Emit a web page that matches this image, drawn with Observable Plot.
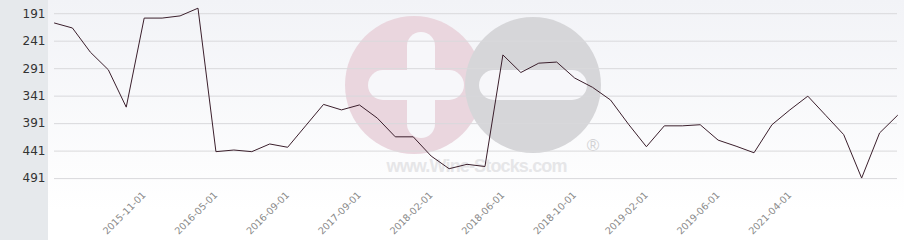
<!DOCTYPE html>
<html>
<head>
<meta charset="utf-8">
<script src="https://cdn.jsdelivr.net/npm/d3@7"></script>
<script src="https://cdn.jsdelivr.net/npm/@observablehq/plot@0.6"></script>
<style>
  html, body { margin: 0; padding: 0; background: #fff; }
  #wrap { position: relative; width: 904px; height: 240px; overflow: hidden; font-family: "DejaVu Sans", sans-serif; }
  #leftpanel { position: absolute; left: 0; top: 0; width: 48px; height: 240px; background: #e6e9ec; }
  #plotbg { position: absolute; left: 48px; top: 0; width: 856px; height: 240px; background: linear-gradient(#f2f3f7, #ffffff 88%); }
  #wm { position: absolute; left: 0; top: 0; }
  #chart { position: absolute; left: 0; top: 0; }
  #chart svg { background: transparent !important; }
</style>
</head>
<body>
<div id="wrap">
  <div id="leftpanel"></div>
  <div id="plotbg"></div>
  <svg id="wm" width="904" height="240">
    <circle cx="414" cy="85" r="69" fill="#ead6de"/>
    <circle cx="533" cy="85" r="68" fill="#d6d6d9"/>
    <rect x="407" y="32" width="28" height="106" rx="14" fill="#f7f7fa"/>
    <rect x="368" y="70" width="96" height="30" rx="15" fill="#f7f7fa"/>
    <rect x="479" y="70" width="108" height="30" rx="15" fill="#f7f7fa"/>
    <text x="593" y="151" text-anchor="middle" font-family="Liberation Sans, Arial" font-size="17" fill="#d2d2d4">®</text>
    <text x="477" y="172" text-anchor="middle" font-family="Liberation Sans, Arial" font-weight="bold" font-size="18" textLength="181" fill="#e6e6e8">www.Wine-Stocks.com</text>
  </svg>
  <div id="chart"></div>
</div>
<script>
// Rank values (lower = better; axis reversed), one per period
const ranks = [208, 217, 261, 293, 361, 199, 199, 195, 181, 442,
               439, 442, 428, 434, 395, 356, 366, 357, 381, 415,
               415, 450, 473, 465, 469, 266, 298, 281, 279, 308,
               325, 348, 392, 433, 395, 395, 393, 421, 432, 444,
               393, 366, 341, 376, 411, 490, 408, 376];
// Labeled period positions and their labels
const tickIndex = [5, 9, 13, 17, 21, 25, 29, 33, 37, 41];
const tickLabels = ["2015-11-01", "2016-05-01", "2016-09-01", "2017-09-01", "2018-02-01",
                    "2018-06-01", "2018-10-01", "2019-02-01", "2019-06-01", "2021-04-01"];
const yTicks = [191, 241, 291, 341, 391, 441, 491];

const data = ranks.map((v, i) => ({i, v}));
const labelOf = new Map(tickIndex.map((t, k) => [t, tickLabels[k]]));

const chart = Plot.plot({
  width: 904,
  height: 240,
  marginLeft: 54,
  marginRight: 7,
  marginTop: 0,
  marginBottom: 52,
  style: {fontFamily: "DejaVu Sans, sans-serif", background: "transparent"},
  x: {type: "linear", domain: [0, ranks.length - 1]},
  y: {domain: [167, 509], reverse: true},
  marks: [
    Plot.gridY(yTicks, {stroke: "#d9d9dc", strokeOpacity: 1}),
    Plot.axisY(yTicks, {tickSize: 0, tickPadding: 9, fontSize: 12, fill: "#333", label: null}),
    Plot.axisX(tickIndex, {tickSize: 0, tickPadding: 5, tickRotate: -45, fontSize: 9.6, fill: "#888",
                           tickFormat: d => labelOf.get(d), label: null}),
    Plot.line(data, {x: "i", y: "v", stroke: "#3b1f2c", strokeWidth: 1})
  ]
});
document.getElementById("chart").appendChild(chart);
</script>
</body>
</html>
